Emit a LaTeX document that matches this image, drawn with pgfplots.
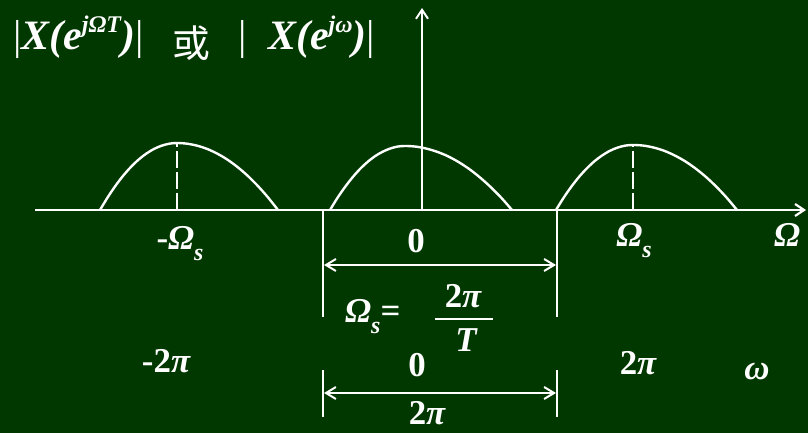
\documentclass[border=0pt]{standalone}
\usepackage{fontspec}
\setmainfont{Liberation Serif}
\newfontfamily\cjk{Noto Sans CJK SC}
\usepackage{pgfplots}
\pgfplotsset{compat=1.18}
\usetikzlibrary{arrows.meta}
\definecolor{board}{RGB}{0,56,0}

% bold label text at a given size; digits upright, symbols italic
\newcommand{\lab}[1]{\fontsize{35}{38}\selectfont\bfseries #1}
\newcommand{\ital}[1]{{\itshape #1}}
\newcommand{\sub}[1]{\raisebox{-0.3em}{\fontsize{24}{26}\selectfont\itshape #1}}

\begin{document}
\begin{tikzpicture}
\begin{axis}[
  scale only axis, width=808bp, height=433bp,
  xmin=0, xmax=808, ymin=-223, ymax=210,
  axis line style={draw=none}, ticks=none,
  axis background/.style={fill=board},
  clip=false,
  every axis plot/.append style={white, line width=2.4bp},
]
% frequency axis and magnitude axis
\addplot[-{Straight Barb[length=9bp,width=12bp]}, line width=2.2bp] coordinates {(35,0) (806,0)};
\addplot[-{Straight Barb[length=9bp,width=12bp]}, line width=2bp] coordinates {(422,0) (422,202)};

% spectral replicas
\addplot[smooth] coordinates {
 (100,0) (107.7,12.7) (115.4,24.1) (123.1,34.2) (130.8,42.9) (138.5,50.3)
 (146.2,56.3) (153.9,61.0) (161.6,64.3) (169.3,66.3) (177,67)
 (187.1,66.3) (197.2,64.3) (207.3,61.0) (217.4,56.3) (227.5,50.3)
 (237.6,42.9) (247.7,34.2) (257.8,24.1) (267.9,12.7) (278,0)};
\addplot[smooth] coordinates {
 (330,0) (337.5,12.2) (345,23.0) (352.5,32.6) (360,41.0) (367.5,48.0)
 (375,53.8) (382.5,58.2) (390,61.4) (397.5,63.4) (405,64)
 (415.7,63.4) (426.4,61.4) (437.1,58.2) (447.8,53.8) (458.5,48.0)
 (469.2,41.0) (479.9,32.6) (490.6,23.0) (501.3,12.2) (512,0)};
\addplot[smooth] coordinates {
 (556,0) (563.7,12.4) (571.4,23.4) (579.1,33.2) (586.8,41.6) (594.5,48.8)
 (602.2,54.6) (609.9,59.2) (617.6,62.4) (625.3,64.4) (633,65)
 (643.4,64.4) (653.8,62.4) (664.2,59.2) (674.6,54.6) (685,48.8)
 (695.4,41.6) (705.8,33.2) (716.2,23.4) (726.6,12.4) (737,0)};

% centre markers of the shifted replicas
\addplot[dash pattern=on 17bp off 4bp, line width=2.5bp] coordinates {(177,0) (177,67)};
\addplot[dash pattern=on 17bp off 4bp, line width=2.5bp] coordinates {(633,0) (633,65)};

% period markers
\addplot[line width=2bp] coordinates {(323,0) (323,-107)};
\addplot[line width=2bp] coordinates {(557,0) (557,-107)};
\addplot[line width=2bp] coordinates {(323,-160) (323,-207)};
\addplot[line width=2bp] coordinates {(557,-160) (557,-207)};
\addplot[{Straight Barb[length=10bp,width=12bp]}-{Straight Barb[length=10bp,width=12bp]}, line width=2bp]
  coordinates {(324,-55) (556,-55)};
\addplot[{Straight Barb[length=10bp,width=12bp]}-{Straight Barb[length=10bp,width=12bp]}, line width=2bp]
  coordinates {(324,-183) (556,-183)};

% heading
\node[white, anchor=base west, inner sep=0pt] at (axis cs:13,160)
  {\fontsize{42}{44}\selectfont |{\bfseries\itshape X(e\raisebox{0.42em}{\fontsize{24}{26}\selectfont jΩT})}|};
\node[white, anchor=center, inner sep=0pt] at (axis cs:191,167) {\fontsize{38}{40}\selectfont\cjk 或};
\node[white, anchor=base west, inner sep=0pt] at (axis cs:238,160)
  {\fontsize{42}{44}\selectfont |};
\node[white, anchor=base west, inner sep=0pt] at (axis cs:268,160)
  {\fontsize{42}{44}\selectfont {\bfseries\itshape X(e\raisebox{0.42em}{\fontsize{24}{26}\selectfont jω})}|};

% Omega scale
\node[white, anchor=base, inner sep=0pt] at (axis cs:180,-40) {\lab{-\ital{Ω}\sub{s}}};
\node[white, anchor=base, inner sep=0pt] at (axis cs:416,-43) {\lab{0}};
\node[white, anchor=base, inner sep=0pt] at (axis cs:634,-37) {\lab{\ital{Ω}\sub{s}}};
\node[white, anchor=base, inner sep=0pt] at (axis cs:787,-37) {\lab{\ital{Ω}}};

% sampling frequency
\node[white, anchor=base west, inner sep=0pt] at (axis cs:345,-113) {\lab{\ital{Ω}\sub{s}=}};
\node[white, anchor=base, inner sep=0pt] at (axis cs:463,-98) {\lab{2\ital{π}}};
\node[white, anchor=center, inner sep=0pt] at (axis cs:464,-109) {\rule{58bp}{2.5bp}};
\node[white, anchor=base, inner sep=0pt] at (axis cs:466,-142) {\lab{\ital{T}}};

% omega scale
\node[white, anchor=base, inner sep=0pt] at (axis cs:166,-163) {\lab{-2\ital{π}}};
\node[white, anchor=base, inner sep=0pt] at (axis cs:417,-167) {\lab{0}};
\node[white, anchor=base, inner sep=0pt] at (axis cs:638,-165) {\lab{2\ital{π}}};
\node[white, anchor=base, inner sep=0pt] at (axis cs:757,-170) {\lab{\ital{ω}}};
\node[white, anchor=base, inner sep=0pt] at (axis cs:427,-214) {\lab{2\ital{π}}};
\end{axis}
\pgfresetboundingbox
\path (current axis.south west) rectangle (current axis.north east);
\end{tikzpicture}
\end{document}
